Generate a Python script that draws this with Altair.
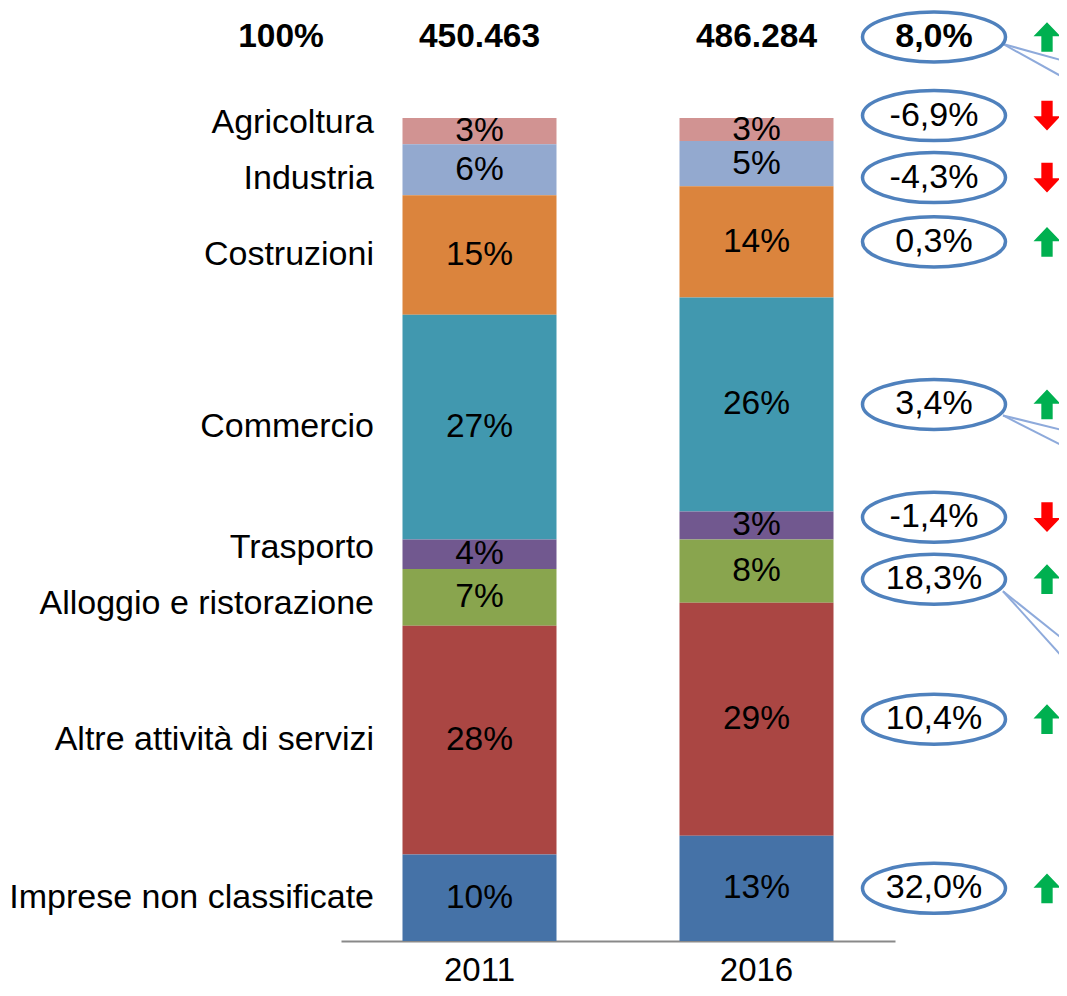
import altair as alt
import pandas as pd

# ---------------- data ----------------
categories = ["Agricoltura", "Industria", "Costruzioni", "Commercio", "Trasporto",
              "Alloggio e ristorazione", "Altre attività di servizi",
              "Imprese non classificate"]
years = ["2011", "2016"]
share_2011 = [3.2, 6.2, 14.5, 27.3, 3.6, 6.9, 27.8, 10.5]
share_2016 = [2.8, 5.5, 13.5, 26.0, 3.4, 7.7, 28.3, 12.8]
label_2011 = ["3%", "6%", "15%", "27%", "4%", "7%", "28%", "10%"]
label_2016 = ["3%", "5%", "14%", "26%", "3%", "8%", "29%", "13%"]
change_labels = ["-6,9%", "-4,3%", "0,3%", "3,4%", "-1,4%", "18,3%", "10,4%", "32,0%"]
change_values = [-6.9, -4.3, 0.3, 3.4, -1.4, 18.3, 10.4, 32.0]
totals = ["450.463", "486.284"]
total_share = "100%"
total_change_label = "8,0%"
total_change_value = 8.0
colors = ["#D19392", "#93A9CF", "#DB843D", "#4198AF", "#71588F",
          "#89A54E", "#AA4643", "#4572A7"]
callout_rows = ["Totale", "Commercio", "Alloggio e ristorazione"]

# ---------------- layout helpers ----------------
FONT = "Liberation Sans"
PX = 8.23                      # pixels per percentage point on the y scale
HEADER_Y = 100 + 81 / PX       # header row above the bars
LABEL_GAP = 56 / PX
ELLIPSE_GAP = 62 / PX


def spread(vals, gap, iters=300):
    v = list(vals)
    for _ in range(iters):
        for i in range(len(v) - 1):
            d = v[i] - v[i + 1]
            if d < gap:
                m = (gap - d) / 2
                v[i] += m
                v[i + 1] -= m
    return v


rows = []
for year, shares, labels in [("2011", share_2011, label_2011), ("2016", share_2016, label_2016)]:
    tot = sum(shares)
    top = 100.0
    for i, (cat, s, lab) in enumerate(zip(categories, shares, labels)):
        h = s / tot * 100
        rows.append(dict(year=year, category=cat, order=i, y1=top, y0=top - h,
                         mid=top - h / 2, label=lab))
        top -= h
bars = pd.DataFrame(rows)

b11 = bars[bars.year == "2011"].reset_index(drop=True)
b16 = bars[bars.year == "2016"].reset_index(drop=True)

left = pd.DataFrame({"category": categories, "y": spread(b11["mid"], LABEL_GAP)})

ell = pd.DataFrame({
    "category": categories,
    "y": spread(b16["mid"], ELLIPSE_GAP),
    "text": change_labels,
    "value": change_values,
})
ell_tot = pd.DataFrame({"category": ["Totale"], "y": [HEADER_Y],
                        "text": [total_change_label], "value": [total_change_value]})
ell_all = pd.concat([ell_tot, ell], ignore_index=True)
ell_all["dir"] = ["up" if v >= 0 else "down" for v in ell_all["value"]]

callout_offsets = {"Totale": (7, 25, 43), "Commercio": (11, 27, 44),
                   "Alloggio e ristorazione": (12, 64, 84)}
cl = []
for c in callout_rows:
    yc = float(ell_all.loc[ell_all.category == c, "y"].iloc[0])
    s, e1, e2 = callout_offsets[c]
    for e in (e1, e2):
        cl.append(dict(category=c, ys=yc - s / PX, ye=yc - e / PX))
callouts = pd.DataFrame(cl)

header = pd.DataFrame({"year": years, "text": totals, "y": [HEADER_Y] * 2})

# ---------------- scales ----------------
xscale = alt.Scale(domain=years, range=[333, 887], paddingInner=0.444, paddingOuter=0.222)
yscale = alt.Scale(domain=[0, 100], range=[933, 110])

ELLIPSE = ("M-1,0C-1,-0.1933,-0.5523,-0.35,0,-0.35C0.5523,-0.35,1,-0.1933,1,0"
           "C1,0.1933,0.5523,0.35,0,0.35C-0.5523,0.35,-1,0.1933,-1,0Z")
UP = "M0,-1.1L1,-0.05L0.42,-0.05L0.42,1.1L-0.42,1.1L-0.42,-0.05L-1,-0.05Z"
DOWN = "M0,1.1L1,0.05L0.42,0.05L0.42,-1.1L-0.42,-1.1L-0.42,0.05L-1,0.05Z"

bar_layer = alt.Chart(bars).mark_bar().encode(
    x=alt.X("year:N", scale=xscale,
            axis=alt.Axis(title=None, labelFontSize=33, labelFont=FONT, labelColor="black",
                          ticks=False, domainColor="#898989", domainWidth=2,
                          labelPadding=13, labelAngle=0)),
    y=alt.Y("y0:Q", scale=yscale, axis=None),
    y2="y1:Q",
    color=alt.Color("category:N", scale=alt.Scale(domain=categories, range=colors), legend=None),
)

bar_text = alt.Chart(bars).mark_text(font=FONT, fontSize=33.5, color="black", baseline="middle").encode(
    x=alt.X("year:N", scale=xscale), y=alt.Y("mid:Q", scale=yscale), text="label:N")

left_text = alt.Chart(left).mark_text(font=FONT, fontSize=34, color="black", align="right",
                                      baseline="middle").encode(
    x=alt.value(366), y=alt.Y("y:Q", scale=yscale), text="category:N")

hdr_share = alt.Chart(pd.DataFrame({"text": [total_share], "y": [HEADER_Y]})).mark_text(
    font=FONT, fontSize=33.5, fontWeight="bold", color="black", baseline="middle").encode(
    x=alt.value(273), y=alt.Y("y:Q", scale=yscale), text="text:N")

hdr_tot = alt.Chart(header).mark_text(font=FONT, fontSize=33.5, fontWeight="bold", color="black",
                                      baseline="middle").encode(
    x=alt.X("year:N", scale=xscale), y=alt.Y("y:Q", scale=yscale), text="text:N")

callout_layer = alt.Chart(callouts).mark_rule(color="#8EAADB", strokeWidth=2).encode(
    x=alt.value(995), x2=alt.value(1060),
    y=alt.Y("ys:Q", scale=yscale), y2="ye:Q")

ell_layer = alt.Chart(ell_all).mark_point(shape=ELLIPSE, size=143 ** 2, filled=False,
                                          stroke="#4F81BD", strokeWidth=3.5, opacity=1).encode(
    x=alt.value(926), y=alt.Y("y:Q", scale=yscale))

ell_text = alt.Chart(ell).mark_text(font=FONT, fontSize=34, color="black", baseline="middle").encode(
    x=alt.value(926), y=alt.Y("y:Q", scale=yscale), text="text:N")

ell_text_tot = alt.Chart(ell_tot).mark_text(font=FONT, fontSize=34, fontWeight="bold", color="black",
                                            baseline="middle").encode(
    x=alt.value(926), y=alt.Y("y:Q", scale=yscale), text="text:N")

up_layer = alt.Chart(ell_all[ell_all.dir == "up"]).mark_point(
    shape=UP, size=729, filled=True, color="#00B050", opacity=1).encode(
    x=alt.value(1039), y=alt.Y("y:Q", scale=yscale))

down_layer = alt.Chart(ell_all[ell_all.dir == "down"]).mark_point(
    shape=DOWN, size=729, filled=True, color="#FF0000", opacity=1).encode(
    x=alt.value(1039), y=alt.Y("y:Q", scale=yscale))

chart = alt.layer(
    bar_layer, bar_text, left_text, hdr_share, hdr_tot, callout_layer,
    ell_layer, ell_text, ell_text_tot, up_layer, down_layer
).properties(
    width=1051, height=933,
    padding={"left": 0, "top": 0, "right": 0, "bottom": 47},
    autosize=alt.AutoSizeParams(type="none"),
    background="white",
).configure_view(strokeWidth=0, stroke="transparent")

chart.save("out.html", embed_options={"renderer": "svg", "actions": False})
